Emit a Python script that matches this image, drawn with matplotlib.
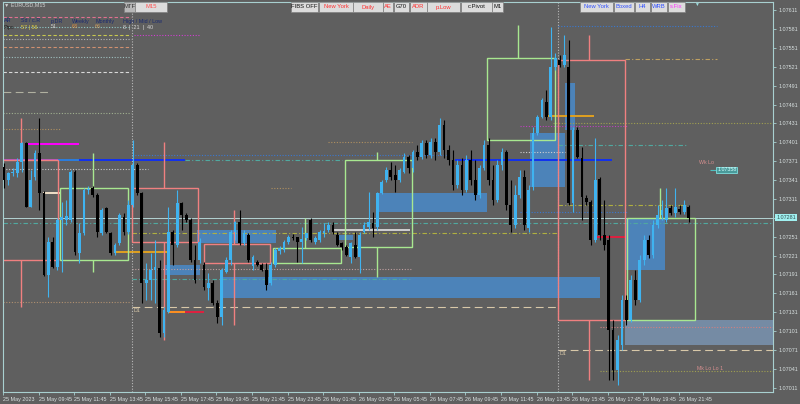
import numpy as np
import matplotlib.pyplot as plt
from matplotlib.patches import Rectangle

plt.rcParams['font.family'] = ['Liberation Sans', 'DejaVu Sans']

BASE = 1.07  # all *_pts values are points above 1.07000

open_pts = [362, 341, 352, 352, 369, 400, 298, 346, 384, 320,
            190, 242, 202, 277, 277, 277, 353, 225, 257, 325,
            328, 317, 257, 296, 257, 225, 241, 282, 258, 301,
            365, 320, 177, 182, 198, 201, 98, 131, 258, 237,
            304, 285, 277, 214, 214, 206, 169, 177, 145, 123,
            195, 214, 258, 274, 241, 253, 205, 210, 206, 198,
            177, 206, 228, 229, 242, 250, 250, 242, 249, 277,
            242, 245, 257, 261, 269, 253, 241, 234, 218, 237,
            218, 258, 266, 272, 266, 320, 341, 357, 349, 341,
            353, 377, 360, 385, 377, 400, 381, 401, 385, 428,
            389, 373, 333, 365, 325, 373, 341, 317, 360, 396,
            341, 309, 365, 385, 301, 269, 317, 346, 264, 330,
            416, 441, 465, 441, 520, 532, 524, 520, 304, 420,
            376, 312, 306, 245, 342, 253, 245, 102, 39, 78,
            150, 118, 182, 150, 214, 245, 222, 269, 285, 277,
            296, 288, 295, 290, 298]
high_pts = [368, 353, 360, 376, 401, 401, 357, 388, 439, 323,
            250, 250, 280, 306, 309, 357, 357, 272, 328, 331,
            331, 320, 296, 298, 258, 241, 288, 288, 309, 404,
            368, 322, 209, 225, 245, 214, 139, 298, 261, 325,
            306, 288, 280, 237, 249, 210, 193, 182, 150, 201,
            218, 261, 276, 293, 261, 257, 222, 214, 209, 209,
            210, 233, 236, 245, 253, 255, 250, 266, 257, 280,
            252, 261, 272, 274, 274, 258, 242, 237, 242, 258,
            258, 274, 322, 290, 322, 341, 362, 369, 365, 360,
            384, 381, 389, 396, 404, 404, 408, 408, 439, 436,
            396, 389, 373, 376, 381, 389, 373, 365, 404, 408,
            365, 373, 392, 389, 341, 333, 357, 357, 333, 425,
            444, 471, 484, 584, 543, 540, 571, 563, 425, 425,
            393, 317, 309, 408, 346, 309, 253, 118, 94, 158,
            158, 190, 198, 222, 253, 253, 277, 301, 309, 328,
            301, 328, 301, 309, 301]
low_pts = [328, 333, 347, 346, 353, 298, 298, 341, 293, 188,
           155, 201, 198, 195, 269, 274, 222, 209, 253, 319,
           314, 250, 253, 257, 222, 222, 237, 253, 255, 298,
           317, 145, 150, 150, 145, 91, 91, 129, 206, 234,
           261, 274, 210, 177, 209, 166, 150, 142, 113, 110,
           193, 206, 245, 237, 237, 210, 198, 204, 196, 166,
           174, 203, 223, 226, 239, 245, 210, 209, 245, 242,
           239, 242, 250, 258, 255, 236, 229, 220, 209, 217,
           193, 257, 261, 250, 261, 319, 338, 341, 322, 338,
           352, 352, 353, 373, 374, 376, 376, 373, 381, 376,
           365, 325, 328, 317, 322, 333, 309, 312, 357, 333,
           301, 306, 357, 293, 258, 264, 312, 261, 258, 325,
           412, 439, 436, 436, 516, 520, 520, 301, 290, 376,
           277, 301, 237, 242, 245, 229, 23, 23, 15, 70,
           110, 115, 142, 147, 206, 217, 217, 264, 277, 274,
           285, 282, 287, 287, 274]
close_pts = [341, 352, 353, 369, 400, 298, 341, 384, 320, 190,
             242, 202, 277, 282, 284, 353, 226, 257, 325, 327,
             317, 258, 293, 258, 225, 237, 285, 258, 301, 365,
             320, 177, 182, 198, 202, 98, 134, 258, 237, 304,
             285, 277, 214, 182, 242, 171, 177, 145, 123, 198,
             214, 258, 274, 241, 257, 214, 218, 206, 198, 174,
             206, 229, 233, 242, 250, 249, 242, 247, 257, 245,
             249, 258, 260, 269, 258, 237, 234, 222, 241, 218,
             253, 269, 274, 265, 320, 338, 357, 346, 341, 357,
             377, 360, 385, 377, 400, 381, 401, 385, 428, 389,
             373, 333, 365, 325, 373, 341, 317, 360, 396, 341,
             309, 365, 385, 301, 269, 317, 346, 269, 325, 416,
             441, 468, 441, 520, 535, 524, 540, 304, 420, 377,
             314, 306, 245, 341, 253, 237, 102, 39, 86, 150,
             118, 182, 150, 214, 245, 222, 269, 285, 293, 296,
             288, 298, 290, 301, 281]

time_labels = ['25 May 2023', '25 May 09:45', '25 May 11:45', '25 May 13:45', '25 May 15:45',
               '25 May 17:45', '25 May 19:45', '25 May 21:45', '25 May 23:45', '26 May 01:45',
               '26 May 03:45', '26 May 05:45', '26 May 07:45', '26 May 09:45', '26 May 11:45',
               '26 May 13:45', '26 May 15:45', '26 May 17:45', '26 May 19:45', '26 May 21:45']
price_labels = ['1.07011', '1.07041', '1.07071', '1.07101', '1.07131', '1.07161', '1.07191',
                '1.07221', '1.07251', '1.07281', '1.07311', '1.07341', '1.07371', '1.07401',
                '1.07431', '1.07461', '1.07491', '1.07521', '1.07551', '1.07581', '1.07611']
last_price = '1.07281'
day_breaks = [28.9, 124.6]

# H4 boxes (bar from, bar to, low pts, high pts)
box_from = [-1.2, 28.9, 44.9, 124.6, 12.7, 60.6, 76.8, 108.7, 140.2]
box_to = [12.1, 43.7, 59.9, 139.7, 27.8, 75.9, 91.8, 124.0, 155.4]
box_low = [214, 242, 209, 118, 214, 209, 234, 404, 118]
box_high = [373, 328, 239, 532, 328, 233, 373, 535, 281]
box_bull = [False, False, False, False, True, True, True, True, True]

# box range marks (bar, from pts, to pts)
mark_bar = [3.9, 3.9, 35.9, 35.9, 51.8, 51.8, 131.6, 131.6, 20.0, 20.0, 67.8, 83.8, 83.8, 115.7, 147.6]
mark_from = [439, 214, 401, 242, 293, 209, 571, 118, 384, 214, 281, 385, 234, 587, 328]
mark_to = [373, 139, 328, 86, 239, 110, 532, 23, 328, 195, 233, 373, 187, 535, 281]
mark_bull = [False] * 8 + [True] * 7

# filled zones
zone_from = [43.5, 36.3, 48.7, 75.0, 83.8, 118.4, 126.2, 139.7, 139.7]
zone_to = [61.1, 44.2, 134.1, 78.6, 108.7, 126.2, 128.5, 148.7, 173.0]
zone_low = [241, 190, 153, 245, 290, 330, 420, 198, 78]
zone_high = [261, 206, 187, 253, 320, 416, 495, 281, 118]

# horizontal levels
level_pts = [600, 584, 571, 571, 565, 552, 536, 513, 481, 447, 422,
             398, 373, 373, 373, 373, 381, 358, 320, 273, 257, 226,
             199, 183, 147, 139, 131, 131, 261, 401, 328,
             586, 533, 431, 427, 443, 385, 396, 373, 301, 290, 107, 71, 37, 250]
level_from = [-0.1, -0.1, -0.1, 29.2, -0.1, -0.1, -0.1, -0.1, -0.1, -0.1, -0.1,
              5.3, -0.1, 12.1, 16.8, 40.8, 28.9, -0.1, 8.9, -0.1, 28.9, 25.1,
              28.9, 28.9, -0.1, 28.9, 37.0, 40.8, 74.1, 72.8, 60.0,
              124.6, 139.7, 123.5, 116.1, 122.2, 116.1, 124.6, 101.5, 124.6, 116.1, 134.1, 124.6, 134.1, 133.5]
level_to = [28.5, 28.5, 28.5, 44.2, 28.5, 28.5, 28.5, 28.5, 10.5, 28.5, 12.7,
            16.8, 12.1, 16.8, 40.8, 76.0, 100.0, 32.5, 12.7, 173.0, 124.6, 36.8,
            91.8, 91.8, 28.5, 124.6, 40.8, 44.9, 91.4, 91.8, 64.5,
            160.4, 160.4, 173.0, 140.4, 132.7, 126.2, 153.6, 136.8, 153.6, 140.4, 173.0, 173.0, 173.0, 139.7]
level_color = ['#e07090', '#90c8c8', '#c8c850', '#d040d0', '#b8b8b8', '#d09070', '#a0c0c0', '#d8d8d8', '#b0b0a0', '#a0b090', '#b09060',
               '#ff00ff', '#b050c0', '#2a7de0', '#1030f0', '#50a8a0', '#3a78d0', '#c8c8c8', '#f0e0c8', '#50a8a0', '#b0b040', '#e0a020',
               '#c0a0a0', '#50a8a0', '#b09070', '#d8c8a8', '#ff9020', '#e02040', '#d0d0d0', '#b09060', '#b09060',
               '#3a78d0', '#c0a060', '#a0a050', '#c040c0', '#e0a020', '#d0d0d0', '#50a8a0', '#1030f0', '#b0b040', '#3a78d0',
               '#d08080', '#d8c8a8', '#a0a050', '#e02040']
level_style = ['dash', 'dot', 'dash', 'dot', 'dot', 'dash', 'dot', 'dash', 'long', 'dot', 'dot',
               'solid', 'solid', 'solid', 'solid', 'dashdot', 'dot', 'dot', 'solid', 'dashdot', 'dashdot', 'solid',
               'dot', 'dashdot', 'dot', 'long', 'solid', 'solid', 'solid', 'dot', 'dot',
               'dot', 'dashdot', 'dot', 'dot', 'solid', 'dot', 'dashdot', 'solid', 'dashdot', 'dot',
               'dot', 'long', 'dot', 'solid']

# level tags (bar, pts, text)
tag_bar = [29.2, 124.9, 156.3, 155.9]
tag_pts = [137, 69, 369, 42]
tag_text = ['D1', 'D1', 'Wk Lo', 'Mk Lo Lo 1']
tag_color = ['#d8c8a8', '#d8c8a8', '#d89090', '#d89090']

buttons = ['MTF', 'M15', 'FIBS OFF', 'New York', 'Daily', 'AE', 'G70', 'ADR', 'p.Low', 'c.Pivot', 'M1',
           'New York', 'Boxed', 'H4', 'WRB', 's.Fix']
button_x0 = [124, 135, 291, 319, 353, 383, 394, 410, 427, 461, 492, 580, 614, 635, 651, 668]
button_x1 = [135, 167, 318, 353, 383, 393, 409, 427, 460, 492, 503, 613, 634, 650, 667, 685]
button_color = ['#303030', '#ff5050', '#101010', '#ff3030', '#ff3030', '#ff3030', '#101010', '#ff3030',
                '#ff3030', '#101010', '#101010', '#3050ff', '#3050ff', '#3050ff', '#3050ff', '#ff30ff']

info_head = ['AR', 'Sd / c.R', 'p.DR', 'Weekly', 'Monthly', 'High / Mid / Low']
info_vals = ['Pips', '57 | 56', '51', '63', '66', '8  |  21  |  40']
info_x = [4, 21, 51, 72, 95, 123]
info_color = ['#202020', '#e0d040', '#d0d0d0', '#e09040', '#d0a060', '#d8d8d8']

BG = '#5f5f5f'
BULL = '#3fb3f0'
BEAR = '#000000'
FRAME = '#a8d0d0'
TXT = '#d8e0e0'
STYLES = {'solid': '-', 'dot': (0, (1, 1.5)), 'dash': (0, (3, 2)), 'dashdot': (0, (4, 2, 1, 2)),
          'long': (0, (7, 4))}


def px(v):
    return BASE + np.asarray(v, dtype=float) / 1e5


fig = plt.figure(figsize=(8, 4.04), dpi=100, facecolor=BG)
ax = fig.add_axes([3 / 800, 12 / 404, 770 / 800, 390 / 404], facecolor=BG)

# zones
for i in range(len(zone_from)):
    fc = '#7890ac' if i == len(zone_from) - 1 else '#4a88c4'
    ax.add_patch(Rectangle((zone_from[i], px(zone_low[i])), zone_to[i] - zone_from[i],
                           px(zone_high[i]) - px(zone_low[i]), fc=fc, ec='none', alpha=0.9, zorder=1))

# levels
for i in range(len(level_pts)):
    lw = 1.4 if level_style[i] == 'solid' else 0.8
    ax.hlines(px(level_pts[i]), level_from[i], level_to[i], colors=level_color[i],
              linestyles=STYLES[level_style[i]], lw=lw, zorder=2)
ax.axhline(float(last_price), color='#c0e6e6', lw=0.6, zorder=2)

for b in day_breaks:
    ax.axvline(b, color='#b8b8b8', ls=(0, (1, 1.5)), lw=0.8, zorder=2)

# H4 boxes
for i in range(len(box_from)):
    col = '#a8e890' if box_bull[i] else '#f08080'
    ax.add_patch(Rectangle((box_from[i], px(box_low[i])), box_to[i] - box_from[i],
                           px(box_high[i]) - px(box_low[i]), fill=False, ec=col, lw=1.0, zorder=2))
for i in range(len(mark_bar)):
    col = '#a8e890' if mark_bull[i] else '#f08080'
    ax.vlines(mark_bar[i], px(mark_from[i]), px(mark_to[i]), colors=col, lw=1.0, zorder=2)

# candles
o, h, l, c = px(open_pts), px(high_pts), px(low_pts), px(close_pts)
xs = np.arange(len(o))
for i in xs:
    col = BULL if c[i] >= o[i] else BEAR
    ax.vlines(i, l[i], h[i], colors=col, lw=0.8, zorder=3)
    ax.bar(i, max(abs(c[i] - o[i]), 0.000008), bottom=min(o[i], c[i]), width=0.62,
           color=col, lw=0, zorder=3)

for i in range(len(tag_text)):
    va = 'top' if tag_text[i] == 'D1' else 'center'
    ax.text(tag_bar[i], px(tag_pts[i]), tag_text[i], color=tag_color[i], fontsize=3.8, va=va, zorder=4)
ax.hlines(px(357), 158.8, 160.3, colors='#50c0c0', lw=0.8)
ax.text(160.4, px(357), '1.07358', color='#d8ffff', fontsize=3.8, va='center', zorder=4,
        bbox=dict(boxstyle='square,pad=0.15', fc='#4a9a9a', ec='#80e0e0', lw=0.6))

ax.set_xlim(-0.07, 172.97)
ax.set_ylim(1.07004, 1.07624)
ax.set_xticks([8 * m - 0.2 for m in range(len(time_labels))])
ax.set_xticklabels(time_labels)
for t in ax.get_xticklabels():
    t.set_ha('left')
ax.yaxis.tick_right()
ax.set_yticks([float(p) for p in price_labels])
# the live price tag covers its own grid label
ax.set_yticklabels(['' if p == last_price else p for p in price_labels])
ax.tick_params(axis='both', colors=FRAME, labelcolor=TXT, labelsize=3.9, length=2.5, width=0.6, pad=1.2)
for s in ax.spines.values():
    s.set_color(FRAME)
    s.set_linewidth(0.8)

ax.text(1.004, float(last_price), last_price, transform=ax.get_yaxis_transform(), color='#305050',
        fontsize=3.9, va='center', ha='left', zorder=5,
        bbox=dict(boxstyle='square,pad=0.15', fc='#a0f0f0', ec='none'))

# top panel
fig.text(4 / 800, 1 - 5 / 404, '\u25bc EURUSD,M15', color='#d0d0d0', fontsize=3.9, va='center')
for i in range(len(info_head)):
    fig.text(info_x[i] / 800, 1 - 21 / 404, info_head[i], color='#1a2a70', fontsize=3.9, va='center')
    fig.text(info_x[i] / 800, 1 - 27 / 404, info_vals[i], color=info_color[i], fontsize=3.9, va='center')
for i in range(len(buttons)):
    x0, x1 = button_x0[i], button_x1[i]
    face = '#b8b8b8' if buttons[i] == 'MTF' else '#dcdcdc'
    fig.add_artist(Rectangle((x0 / 800, 1 - 12 / 404), (x1 - x0) / 800, 10 / 404,
                             transform=fig.transFigure, fc=face, ec='#808080', lw=0.5))
    fig.text((x0 + x1) / 2 / 800, 1 - 7 / 404, buttons[i], color=button_color[i],
             fontsize=4.2, ha='center', va='center')
fig.text(696 / 800, 1 - 4 / 404, '\u25bc', color='#a0e0e0', fontsize=3.5, ha='center', va='center')

fig.savefig('out.png', dpi=100, facecolor=BG)
